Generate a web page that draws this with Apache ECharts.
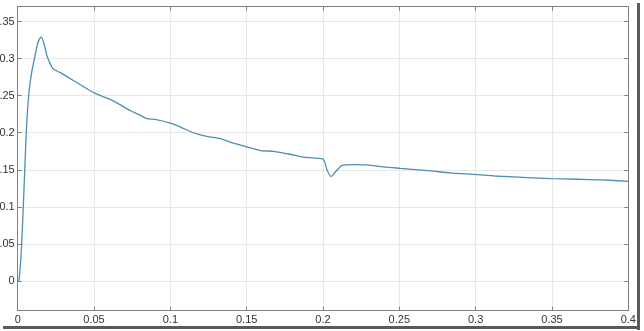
<!DOCTYPE html>
<html>
<head>
<meta charset="utf-8">
<script src="https://cdn.jsdelivr.net/npm/echarts@6/dist/echarts.min.js"></script>
<style>
html,body{margin:0;padding:0;background:#fff;}
#chart{width:644px;height:331px;}
</style>
</head>
<body>
<div id="chart"></div>
<script>
var timeValues = [0, 0.0008, 0.002, 0.0033, 0.0046, 0.0056, 0.0065, 0.0075, 0.0092, 0.0111, 0.0133, 0.0153, 0.0170, 0.0190, 0.0215, 0.0234, 0.0280, 0.0320, 0.0409, 0.0507, 0.0605, 0.0670, 0.0736, 0.0800, 0.0846, 0.0900, 0.0999, 0.1064, 0.1151, 0.1239, 0.1326, 0.1414, 0.1502, 0.1590, 0.1676, 0.1786, 0.1873, 0.1993, 0.2009, 0.2026, 0.2053, 0.2081, 0.2125, 0.2200, 0.2289, 0.2397, 0.2507, 0.2705, 0.2835, 0.3010, 0.3162, 0.3338, 0.3490, 0.3666, 0.3824, 0.4000];
var signalValues = [0, 0.001, 0.028, 0.082, 0.149, 0.200, 0.232, 0.257, 0.282, 0.301, 0.322, 0.329, 0.322, 0.305, 0.292, 0.286, 0.281, 0.276, 0.265, 0.253, 0.245, 0.238, 0.230, 0.224, 0.219, 0.218, 0.213, 0.208, 0.200, 0.195, 0.192, 0.186, 0.181, 0.176, 0.175, 0.171, 0.167, 0.165, 0.162, 0.150, 0.141, 0.147, 0.156, 0.157, 0.1566, 0.154, 0.152, 0.1485, 0.1458, 0.1436, 0.1413, 0.1396, 0.1382, 0.1373, 0.1364, 0.1345];
var xTicks = [0, 0.05, 0.1, 0.15, 0.2, 0.25, 0.3, 0.35, 0.4];
var yTicks = [0, 0.05, 0.1, 0.15, 0.2, 0.25, 0.3, 0.35];
var xRange = [0, 0.4];
var yRange = [-0.04, 0.37];

var points = timeValues.map(function (t, i) { return [t, signalValues[i]]; });

var axisColor = '#808080';
var labelStyle = { color: '#333333', fontSize: 11, fontFamily: 'Liberation Sans, Arial, sans-serif' };

function xAx(pos, showLabel) {
  return {
    type: 'value', position: pos, min: xRange[0], max: xRange[1],
    axisLine: { show: true, onZero: false, lineStyle: { color: axisColor, width: 1 } },
    axisTick: { show: true, inside: true, length: 4, customValues: xTicks, lineStyle: { color: axisColor } },
    axisLabel: Object.assign({ show: showLabel, margin: 4, customValues: xTicks,
      formatter: function (v) { return String(v); } }, labelStyle),
    splitLine: { show: showLabel, lineStyle: { color: '#e8e8e8', width: 1 } }
  };
}
function yAx(pos, showLabel) {
  return {
    type: 'value', position: pos, min: yRange[0], max: yRange[1],
    axisLine: { show: true, onZero: false, lineStyle: { color: axisColor, width: 1 } },
    axisTick: { show: true, inside: true, length: 4, customValues: yTicks, lineStyle: { color: axisColor } },
    axisLabel: Object.assign({ show: showLabel, margin: 3, customValues: yTicks,
      formatter: function (v) { return String(v); } }, labelStyle),
    splitLine: { show: showLabel, lineStyle: { color: '#e8e8e8', width: 1 } }
  };
}

var chart = echarts.init(document.getElementById('chart'), null, { renderer: 'canvas' });
chart.setOption({
  animation: false,
  backgroundColor: '#ffffff',
  grid: { left: 17.7, right: 15.7, top: 6.7, bottom: 20.3, containLabel: false, outerBoundsMode: 'none' },
  xAxis: [xAx('bottom', true), xAx('top', false)],
  yAxis: [yAx('left', true), yAx('right', false)],
  graphic: [
    { type: 'rect', shape: { x: 637, y: 3, width: 3, height: 327 }, style: { fill: '#5a5a5a' }, z: 100 },
    { type: 'rect', shape: { x: 3, y: 326, width: 637, height: 3 }, style: { fill: '#5a5a5a' }, z: 100 }
  ],
  series: [{
    type: 'line',
    xAxisIndex: 0, yAxisIndex: 0,
    data: points,
    showSymbol: false,
    smooth: 0.25,
    lineStyle: { color: '#4b8fb2', width: 1.3 }
  }]
});
</script>
</body>
</html>
